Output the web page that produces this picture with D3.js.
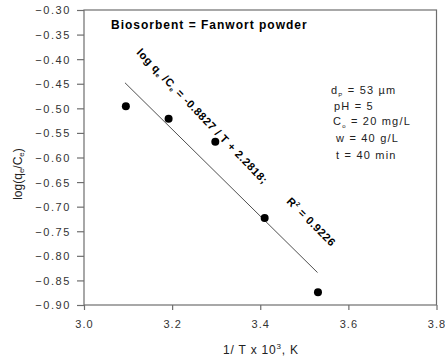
<!DOCTYPE html>
<html>
<head>
<meta charset="utf-8">
<script src="https://cdn.jsdelivr.net/npm/d3@7"></script>
<style>
  body { margin: 0; background: #fff; }
  text { font-family: "Liberation Sans", Arial, sans-serif; }
</style>
</head>
<body>
<div id="chart"></div>
<script>
// data
let invT = [3.095, 3.192, 3.298, 3.410, 3.531]
let logQC = [-0.496, -0.521, -0.568, -0.723, -0.874]

// fitted line end points
let fitX = [3.093, 3.530]
let fitY = [-0.448, -0.834]

let xTicks = [3.0, 3.2, 3.4, 3.6, 3.8]
let yTicks = [-0.30, -0.35, -0.40, -0.45, -0.50, -0.55, -0.60, -0.65, -0.70, -0.75, -0.80, -0.85, -0.90]

let params = [
  { main: "d", sub: "P", rest: " = 53 \u00b5m", x: 331, y: 94 },
  { main: "pH = 5", sub: "", rest: "", x: 334, y: 110 },
  { main: "C", sub: "o", rest: " = 20 mg/L", x: 333, y: 125 },
  { main: "w = 40 g/L", sub: "", rest: "", x: 336, y: 142 },
  { main: "t = 40 min", sub: "", rest: "", x: 336, y: 159 },
]

let svg = d3.select("#chart")
  .append("svg")
  .attr("width", 445)
  .attr("height", 362)

let plotL = 84, plotR = 436.5, plotT = 10, plotB = 305

let xscale = d3.scaleLinear().domain([3.0, 3.8]).range([plotL, plotR])
let yscale = d3.scaleLinear().domain([-0.9, -0.3]).range([plotB, plotT])

let axisColor = "#6e6e6e"

// frame
svg.append("rect")
  .attr("x", plotL)
  .attr("y", plotT)
  .attr("width", plotR - plotL)
  .attr("height", plotB - plotT)
  .attr("fill", "none")
  .attr("stroke", axisColor)
  .attr("stroke-width", 1.2)

// x axis
let gx = svg.append("g")
  .attr("transform", `translate(0,${plotB})`)
  .call(d3.axisBottom(xscale).tickValues(xTicks).tickFormat(d3.format(".1f")).tickSize(5).tickPadding(10))
gx.select(".domain").remove()

// y axis
let gy = svg.append("g")
  .attr("transform", `translate(${plotL},0)`)
  .call(d3.axisLeft(yscale).tickValues(yTicks).tickFormat(d3.format(".2f")).tickSize(7).tickPadding(6))
gy.select(".domain").remove()

svg.selectAll(".tick line").attr("stroke", axisColor).attr("stroke-width", 1.2)
svg.selectAll(".tick text")
  .attr("fill", "#333")
  .attr("font-size", "11px")
  .style("font-family", "'Liberation Sans', Arial, sans-serif")
gy.selectAll(".tick text").attr("dy", "0.36em").style("letter-spacing", "1.6px")
gx.selectAll(".tick text").style("letter-spacing", "1px")

// regression line
let line = d3.line()
  .x(function (d) { return xscale(d[0]) })
  .y(function (d) { return yscale(d[1]) })
svg.append("path")
  .datum(d3.zip(fitX, fitY))
  .attr("d", line)
  .attr("fill", "none")
  .attr("stroke", "#222")
  .attr("stroke-width", 0.8)

// points
svg.selectAll("circle.pt")
  .data(d3.zip(invT, logQC))
  .enter()
  .append("circle")
  .attr("class", "pt")
  .attr("cx", function (d) { return xscale(d[0]) })
  .attr("cy", function (d) { return yscale(d[1]) })
  .attr("r", 4)
  .attr("fill", "#000")

// title inside
svg.append("text")
  .attr("x", 111)
  .attr("y", 29)
  .attr("font-size", "12px")
  .attr("font-weight", "bold")
  .style("letter-spacing", "1px")
  .text("Biosorbent = Fanwort  powder")

// equation
let eq = svg.append("text")
  .attr("transform", "translate(136,53) rotate(46)")
  .attr("font-size", "11px")
  .attr("font-weight", "bold")
  .style("letter-spacing", "0.6px")
eq.append("tspan").text("log q")
eq.append("tspan").attr("font-size", "6px").attr("dy", 2).text("e")
eq.append("tspan").attr("dy", -2).text(" /C")
eq.append("tspan").attr("font-size", "6px").attr("dy", 2).text("e")
eq.append("tspan").attr("dy", -2).text("  = -0.8827 / T + 2.2818;")

let r2 = svg.append("text")
  .attr("transform", "translate(286,202) rotate(45)")
  .attr("font-size", "11px")
  .attr("font-weight", "bold")
  .style("letter-spacing", "0.6px")
r2.append("tspan").text("R")
r2.append("tspan").attr("font-size", "6px").attr("dy", -5).text("2")
r2.append("tspan").attr("dy", 5).text(" = 0.9226")

// conditions
params.forEach(function (p) {
  let t = svg.append("text")
    .attr("x", p.x)
    .attr("y", p.y)
    .attr("font-size", "11px")
    .attr("fill", "#222")
    .style("letter-spacing", "1.2px")
  t.append("tspan").text(p.main)
  if (p.sub) {
    t.append("tspan").attr("font-size", "6px").attr("dy", 3).text(p.sub)
    t.append("tspan").attr("dy", -3).text(p.rest)
  }
})

// x label
let xl = svg.append("text")
  .attr("x", 261)
  .attr("y", 354)
  .attr("text-anchor", "middle")
  .attr("font-size", "12px")
  .attr("fill", "#222")
  .style("letter-spacing", "0.8px")
xl.append("tspan").text("1/ T x 10")
xl.append("tspan").attr("font-size", "8px").attr("dy", -5).text("3")
xl.append("tspan").attr("dy", 5).text(", K")

// y label
let yl = svg.append("text")
  .attr("transform", "translate(22,174) rotate(-90)")
  .attr("text-anchor", "middle")
  .attr("font-size", "12px")
  .attr("fill", "#222")
yl.append("tspan").text("log(q")
yl.append("tspan").attr("font-size", "8px").attr("dy", 2).text("e")
yl.append("tspan").attr("dy", -2).text("/C")
yl.append("tspan").attr("font-size", "8px").attr("dy", 2).text("e")
yl.append("tspan").attr("dy", -2).text(")")
</script>
</body>
</html>
